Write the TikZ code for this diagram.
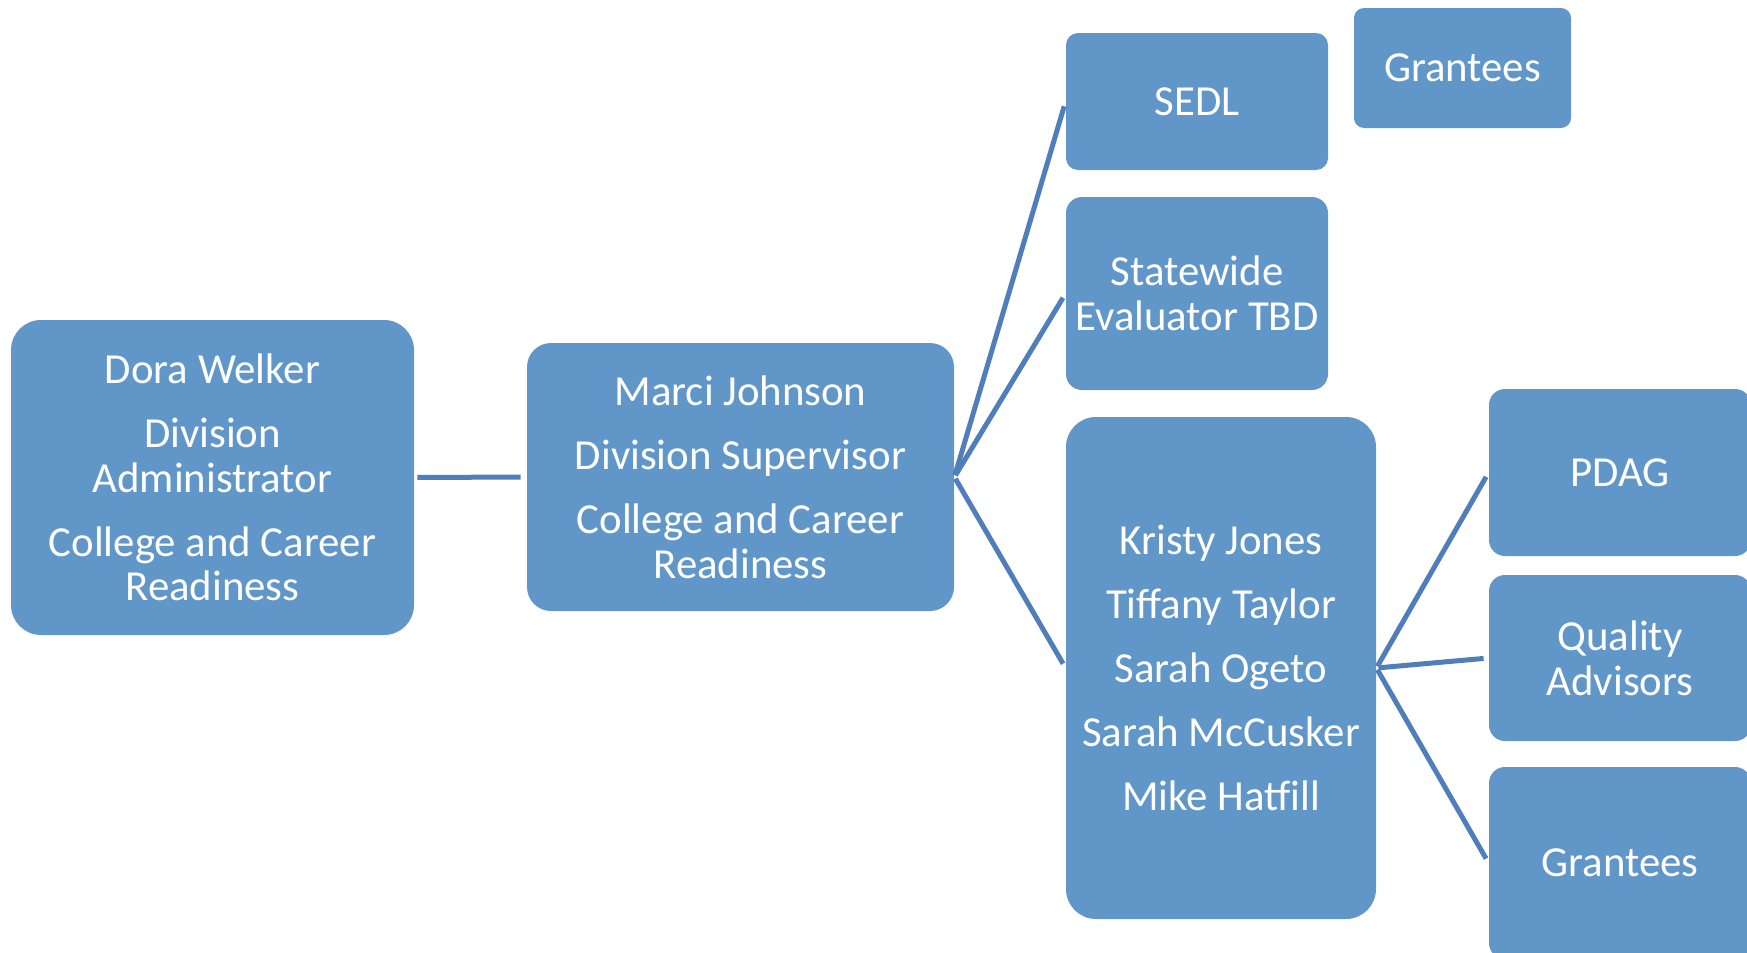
\documentclass[tikz,border=0pt]{standalone}
\usepackage{fontspec}
\setmainfont{Carlito}
\definecolor{boxfill}{HTML}{6196C8}
\definecolor{linkcol}{HTML}{4F7EBA}
\begin{document}
\begin{tikzpicture}[x=0.5pt,y=-0.5pt,
  box/.style={fill=boxfill, text=white, align=center, inner sep=0pt,
    font=\fontsize{21.4}{22.3}\selectfont},
  link/.style={draw=linkcol, line width=2.5pt, shorten >=2.5pt, shorten <=1pt}]
\useasboundingbox (0,0) rectangle (1747,953);
\clip (0,0) rectangle (1747,953);
\node[box, minimum width=201.5pt, minimum height=157.5pt, rounded corners=15pt] (dora) at (212.5,477.5)
  {Dora Welker\\[9.7pt]Division\\Administrator\\[9.7pt]College and Career\\Readiness};
\node[box, minimum width=213.5pt, minimum height=134pt, rounded corners=12pt] (marci) at (740.5,477)
  {Marci Johnson\\[9.7pt]Division Supervisor\\[9.7pt]College and Career\\Readiness};
\node[box, minimum width=131pt, minimum height=68.5pt, rounded corners=6pt] (sedl) at (1197,101.5) {SEDL};
\node[box, minimum width=108.5pt, minimum height=60pt, rounded corners=5pt] (grantA) at (1462.5,68) {Grantees};
\node[box, minimum width=131pt, minimum height=96.5pt, rounded corners=8pt] (state) at (1197,293.5)
  {Statewide\\Evaluator TBD};
\node[box, minimum width=155pt, minimum height=251pt, rounded corners=15pt] (kristy) at (1221,668)
  {Kristy Jones\\[9.7pt]Tiffany Taylor\\[9.7pt]Sarah Ogeto\\[9.7pt]Sarah McCusker\\[9.7pt]Mike Hatfill};
\node[box, minimum width=131pt, minimum height=83.5pt, rounded corners=8pt] (pdag) at (1620,472.5) {PDAG};
\node[box, minimum width=131pt, minimum height=83pt, rounded corners=8pt] (quality) at (1620,658)
  {Quality\\Advisors};
\node[box, minimum width=131pt, minimum height=96pt, rounded corners=8pt] (grantB) at (1620,863) {Grantees};
\draw[link, shorten >=3pt, shorten <=1.5pt] (dora.east) -- (marci.west);
\draw[link] (marci.east) -- (sedl.west);
\draw[link] (marci.east) -- (state.west);
\draw[link] (marci.east) -- (kristy.west);
\draw[link] (kristy.east) -- (pdag.west);
\draw[link] (kristy.east) -- (quality.west);
\draw[link] (kristy.east) -- (grantB.west);
\end{tikzpicture}
\end{document}
